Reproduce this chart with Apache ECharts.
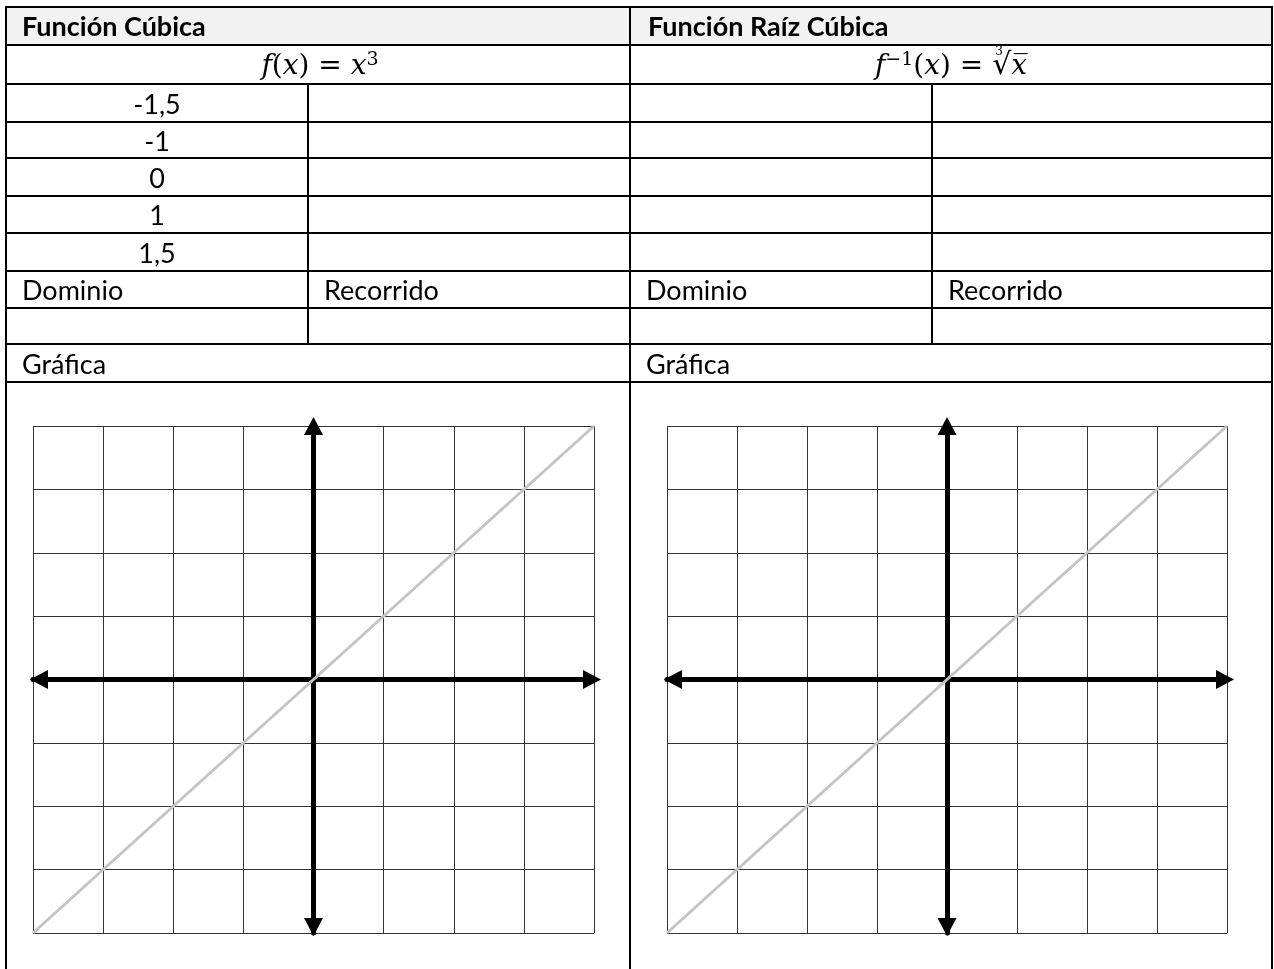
<!DOCTYPE html>
<html>
<head>
<meta charset="utf-8">
<title>Función Cúbica / Raíz Cúbica</title>
<script src="https://cdn.jsdelivr.net/npm/echarts@6/dist/echarts.min.js"></script>
<style>
  html, body { margin: 0; padding: 0; background: #fff; }
  #main { width: 1274px; height: 969px; }
</style>
</head>
<body>
<div id="main"></div>
<script>
// datos de la tabla
var titles = ['Función Cúbica', 'Función Raíz Cúbica'];
var xValues = ['-1,5', '-1', '0', '1', '1,5'];
var colNames = ['Dominio', 'Recorrido'];
var graphLabel = 'Gráfica';

// ejes de la gráfica y recta y = x
var axisMin = -4;
var axisMax = 4;
var axisStep = 1;
var diagX = [-4, 4];
var diagY = [-4, 4];

var myChart = echarts.init(document.getElementById('main'));

// geometría de la tabla (px)
var L = 6, R = 1272, M = 630, D1 = 308, D2 = 932;
var rows = [7, 45, 84, 122, 158, 196, 233, 271, 308, 344, 382];
var H = 969;
var txtFont = 'Lato';
var fs = 27;

function hline(y, x1, x2) {
    return { type: 'line', shape: { x1: x1, y1: y, x2: x2, y2: y }, style: { stroke: '#000', lineWidth: 2 }, z: 10 };
}
function vline(x, y1, y2) {
    return { type: 'line', shape: { x1: x, y1: y1, x2: x, y2: y2 }, style: { stroke: '#000', lineWidth: 2 }, z: 10 };
}
function txt(s, x, y, opts) {
    opts = opts || {};
    return {
        type: 'text', z: 11,
        style: {
            text: s, x: x, y: y,
            align: opts.align || 'left', verticalAlign: 'middle',
            font: (opts.bold ? 'bold ' : '') + fs + 'px ' + txtFont,
            fill: '#000'
        }
    };
}
function mid(i) { return (rows[i] + rows[i + 1]) / 2 + 2; }

var g = [];
// fondo del encabezado
g.push({ type: 'rect', shape: { x: L, y: rows[0], width: R - L, height: rows[1] - rows[0] }, style: { fill: '#f2f2f2' }, z: 9 });
// líneas horizontales
rows.forEach(function (y) { g.push(hline(y, L, R)); });
// líneas verticales
g.push(vline(L, rows[0] - 1, H));
g.push(vline(R, rows[0] - 1, H));
g.push(vline(M, rows[0] - 1, H));
g.push(vline(D1, rows[2], rows[9]));
g.push(vline(D2, rows[2], rows[9]));

// textos
g.push(txt(titles[0], L + 16, mid(0) - 1, { bold: true }));
g.push(txt(titles[1], M + 18, mid(0) - 1, { bold: true }));
xValues.forEach(function (v, i) {
    g.push(txt(v, (L + D1) / 2, mid(2 + i), { align: 'center' }));
});
g.push(txt(colNames[0], L + 16, mid(7)));
g.push(txt(colNames[1], D1 + 16, mid(7)));
g.push(txt(colNames[0], M + 16, mid(7)));
g.push(txt(colNames[1], D2 + 16, mid(7)));
g.push(txt(graphLabel, L + 16, mid(9)));
g.push(txt(graphLabel, M + 16, mid(9)));

// fórmulas
var mathRich = {
    i: { fontFamily: 'DejaVu Serif', fontStyle: 'italic', fontSize: 28, fill: '#000' },
    n: { fontFamily: 'DejaVu Serif', fontSize: 28, fill: '#000' },
    s: { fontFamily: 'DejaVu Serif', fontSize: 19, fill: '#000', verticalAlign: 'top', padding: [0, 0, 12, 0] },
    r: { fontFamily: 'DejaVu Serif', fontSize: 30, fill: '#000' }
};
g.push({
    type: 'text', z: 11,
    style: {
        text: '{i|f}{n|(}{i|x}{n|) = }{i|x}{s|3}',
        x: (L + M) / 2 + 2, y: mid(1), align: 'center', verticalAlign: 'middle',
        rich: mathRich
    }
});
g.push({
    type: 'text', z: 11,
    style: {
        text: '{i|f}{s|−1}{n|(}{i|x}{n|) = }{r|√}{i|x\u0305}',
        x: (M + R) / 2, y: mid(1), align: 'center', verticalAlign: 'middle',
        rich: mathRich
    }
});
// índice 3 de la raíz
g.push({
    type: 'text', z: 12,
    style: { text: '3', x: 999, y: 52, align: 'center', verticalAlign: 'middle', font: '12px DejaVu Serif', fill: '#000' }
});

function makeAxis(idx, offs) {
    return {
        type: 'value', gridIndex: idx,
        min: axisMin, max: axisMax, interval: axisStep,
        axisLine: {
            show: true, onZero: true,
            symbol: ['triangle', 'triangle'],
            symbolSize: [19, 18],
            symbolOffset: offs,
            lineStyle: { color: '#000', width: 5 }
        },
        axisTick: { show: false },
        axisLabel: { show: false },
        splitLine: { show: true, lineStyle: { color: '#333', width: 1 } }
    };
}

option = {
    animation: false,
    backgroundColor: '#fff',
    grid: [
        { left: 33, top: 426, width: 561, height: 507 },
        { left: 667, top: 426, width: 560, height: 507 }
    ],
    xAxis: [makeAxis(0, [6, -2]), makeAxis(1, [6, -2])],
    yAxis: [makeAxis(0, [6, 0]), makeAxis(1, [6, 0])],
    series: [0, 1].map(function (k) {
        return {
            type: 'line',
            xAxisIndex: k, yAxisIndex: k,
            data: diagX.map(function (x, i) { return [x, diagY[i]]; }),
            showSymbol: false,
            silent: true,
            lineStyle: { color: '#c4c4c4', width: 3 }
        };
    }),
    graphic: g
};

myChart.setOption(option);
</script>
</body>
</html>
